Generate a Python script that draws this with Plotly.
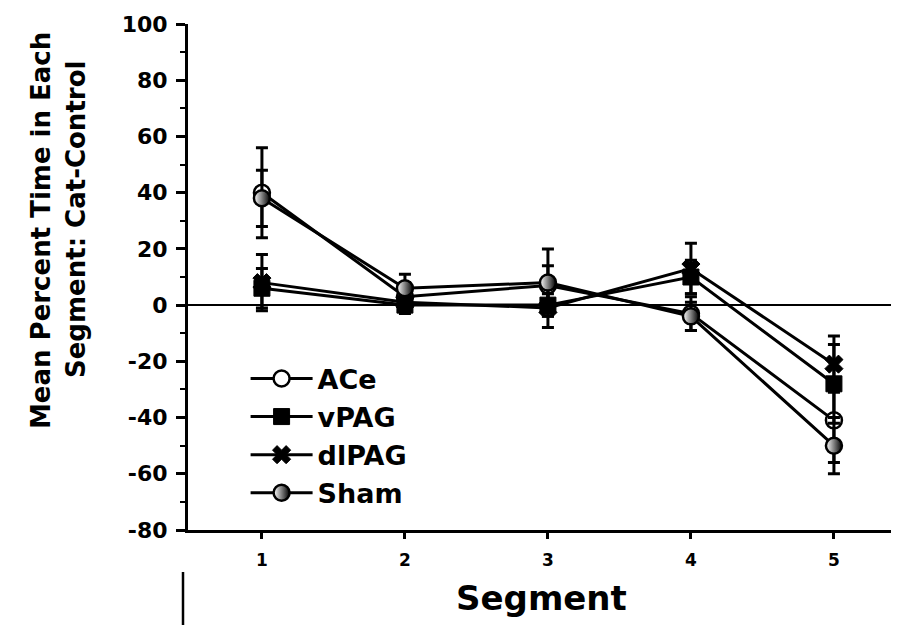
import plotly.graph_objects as go

segments = [1, 2, 3, 4, 5]
tick_vals_y = [-80, -60, -40, -20, 0, 20, 40, 60, 80, 100]

ace = [40, 3, 7, -3, -41]
ace_err = [16, 5, 7, 6, 15]
vpag = [6, 0, 0, 10, -28]
vpag_err = [7, 3, 4, 6, 14]
dlpag = [8, 1, -1, 13, -21]
dlpag_err = [10, 3, 7, 9, 10]
sham = [38, 6, 8, -4, -50]
sham_err = [10, 5, 12, 5, 10]

FONT = "DejaVu Sans"

fig = go.Figure()

def add(name, y, err, marker):
    fig.add_trace(go.Scatter(
        x=segments, y=y, name=name, mode="lines+markers",
        line=dict(color="black", width=3),
        marker=marker,
        error_y=dict(type="data", array=err, visible=True, color="black", thickness=3, width=6),
    ))

add("ACe", ace, ace_err, dict(symbol="circle", size=16, color="white", line=dict(color="black", width=2.5)))
add("vPAG", vpag, vpag_err, dict(symbol="square", size=16, color="black", line=dict(color="black", width=1)))
add("dlPAG", dlpag, dlpag_err, dict(symbol="x", size=16, color="black", line=dict(color="black", width=1)))
add("Sham", sham, sham_err, dict(symbol="circle", size=16, color="white",
                                  gradient=dict(type="horizontal", color="black"),
                                  line=dict(color="black", width=2.5)))

# page body has an 8px default margin, so the figure is sized/offset to compensate
fig.update_layout(
    width=891, height=619,
    margin=dict(l=180, r=0, t=16, b=97),
    paper_bgcolor="white", plot_bgcolor="white",
    font=dict(family=FONT, color="black", weight="bold"),
    showlegend=True,
    legend=dict(x=0.081, y=0.347, xanchor="left", yanchor="top",
                font=dict(size=27, family=FONT, weight="bold", color="black"),
                bgcolor="rgba(0,0,0,0)", itemwidth=62, tracegroupgap=0),
    xaxis=dict(range=[0.483, 5.455], tickvals=segments, ticktext=[str(s) for s in segments],
               showgrid=False, zeroline=False, showline=True, linecolor="black", linewidth=2.5,
               ticks="outside", ticklen=6, tickwidth=2.5, tickcolor="black",
               tickfont=dict(size=17, family=FONT, weight="bold"), ticklabelstandoff=7),
    yaxis=dict(range=[-80, 100], tickvals=tick_vals_y, ticktext=[str(v) for v in tick_vals_y],
               showgrid=False, zeroline=True, zerolinecolor="black", zerolinewidth=1.5,
               showline=True, linecolor="black", linewidth=3,
               ticks="outside", ticklen=9, tickwidth=2.5, tickcolor="black",
               minor=dict(dtick=10, ticks="outside", ticklen=5, tickwidth=2, tickcolor="black"),
               tickfont=dict(size=22, family=FONT, weight="bold"), ticklabelstandoff=4),
)

fig.add_annotation(text="Mean Percent Time in Each", xref="paper", yref="paper",
                   x=(41 - 188) / 711, y=(530 - 231) / 506, textangle=-90, showarrow=False,
                   xanchor="center", yanchor="middle",
                   font=dict(size=26, family=FONT, weight="bold", color="black"))
fig.add_annotation(text="Segment: Cat-Control", xref="paper", yref="paper",
                   x=(76 - 188) / 711, y=(530 - 220) / 506, textangle=-90, showarrow=False,
                   xanchor="center", yanchor="middle",
                   font=dict(size=26, family=FONT, weight="bold", color="black"))
fig.add_annotation(text="Segment", xref="paper", yref="paper",
                   x=(541 - 188) / 711, y=(530 - 598) / 506, showarrow=False,
                   xanchor="center", yanchor="middle",
                   font=dict(size=34, family=FONT, weight="bold", color="black"))

fig.add_shape(type="line", xref="paper", yref="paper",
              x0=(183 - 188) / 711, x1=(183 - 188) / 711,
              y0=(530 - 572) / 506, y1=(530 - 625) / 506,
              line=dict(color="black", width=2.5))

fig.write_html("out.html")
